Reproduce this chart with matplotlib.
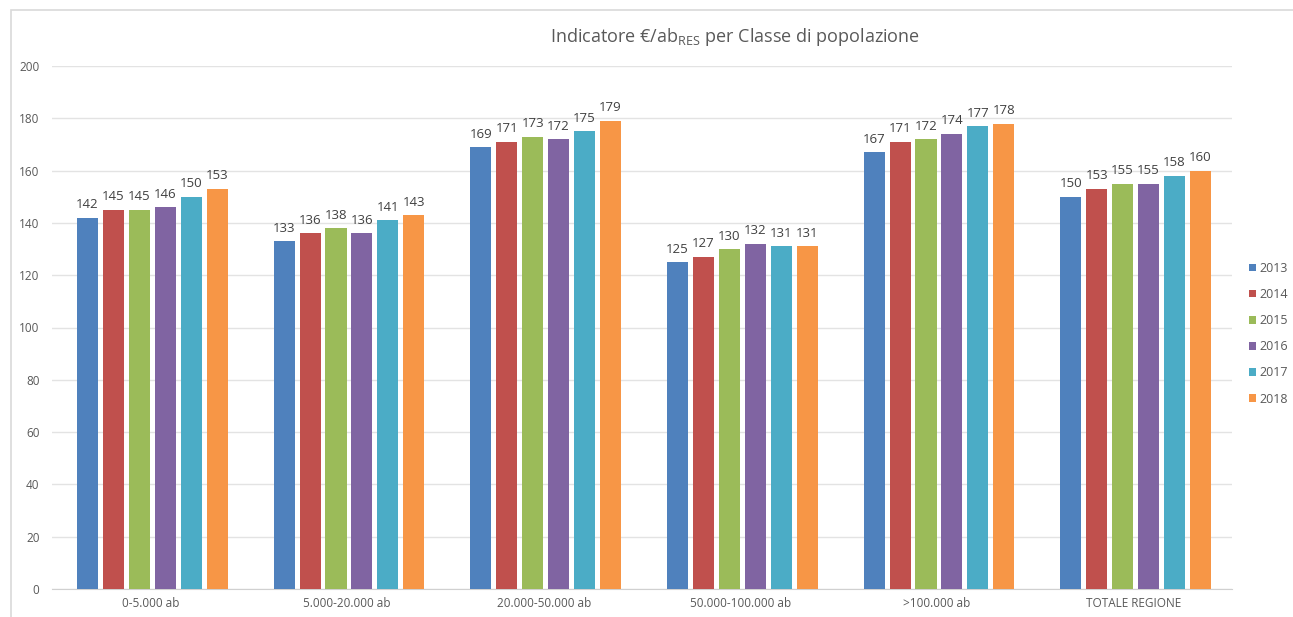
import numpy as np
import matplotlib
matplotlib.use('Agg')
import matplotlib.pyplot as plt
from matplotlib.patches import Rectangle

plt.rcParams['font.family'] = ['Open Sans', 'DejaVu Sans']
plt.rcParams['mathtext.fontset'] = 'custom'
plt.rcParams['mathtext.rm'] = 'Open Sans'
plt.rcParams['mathtext.it'] = 'Open Sans'

classi = ['0-5.000 ab', '5.000-20.000 ab', '20.000-50.000 ab',
          '50.000-100.000 ab', '>100.000 ab', 'TOTALE REGIONE']
anni = ['2013', '2014', '2015', '2016', '2017', '2018']

v2013 = [142, 133, 169, 125, 167, 150]
v2014 = [145, 136, 171, 127, 171, 153]
v2015 = [145, 138, 173, 130, 172, 155]
v2016 = [146, 136, 172, 132, 174, 155]
v2017 = [150, 141, 175, 131, 177, 158]
v2018 = [153, 143, 179, 131, 178, 160]
serie = [v2013, v2014, v2015, v2016, v2017, v2018]

colori = ['#4F81BD', '#C0504D', '#9BBB59', '#8064A2', '#4BACC6', '#F79646']
grigio = '#595959'

W, H = 1293, 617
fig = plt.figure(figsize=(W / 100, H / 100), dpi=100)
ax = fig.add_axes([52 / W, 1 - 589 / H, 1180 / W, 523 / H])

x = np.arange(len(classi))
passo = 0.132
larg = 0.107
for i, (anno, vals) in enumerate(zip(anni, serie)):
    off = (i - 2.5) * passo + 0.01
    bars = ax.bar(x + off, vals, width=larg, color=colori[i], label=anno, zorder=3)
    for b, v in zip(bars, vals):
        ax.text(b.get_x() + b.get_width() / 2, v + 2.5, f'{v}',
                ha='center', va='bottom', fontsize=9.5, color='#404040')

ax.set_xlim(-0.5, len(classi) - 0.5)
ax.set_ylim(0, 200)
ax.set_yticks(range(0, 201, 20))
ax.set_xticks(x)
ax.set_xticklabels(classi)
ax.tick_params(axis='both', length=0, labelsize=8.5, colors=grigio)
ax.tick_params(axis='y', pad=9)
ax.tick_params(axis='x', pad=6)
ax.yaxis.grid(True, color='#E3E3E3', linewidth=1, zorder=0)
for s in ['top', 'right', 'left']:
    ax.spines[s].set_visible(False)
ax.spines['bottom'].set_color('#D0D0D0')

fig.text(735 / W, 1 - 37 / H, r'Indicatore €/ab$_{\mathrm{RES}}$ per Classe di popolazione',
         ha='center', va='center', fontsize=13, color=grigio)

fig.legend(loc='upper left', bbox_to_anchor=(1249 / W, 1 - 262 / H), frameon=False,
           handlelength=0.55, handleheight=0.55, handletextpad=0.3,
           labelspacing=1.05, fontsize=9, labelcolor=grigio, borderaxespad=0, borderpad=0)

# cornice del grafico
fig.patches.append(Rectangle((11 / W, -0.1), 2, 1.1 - 10 / H, transform=fig.transFigure,
                             fill=False, edgecolor='#D9D9D9', linewidth=1.2))

fig.savefig('out.png', dpi=100, facecolor='white')
